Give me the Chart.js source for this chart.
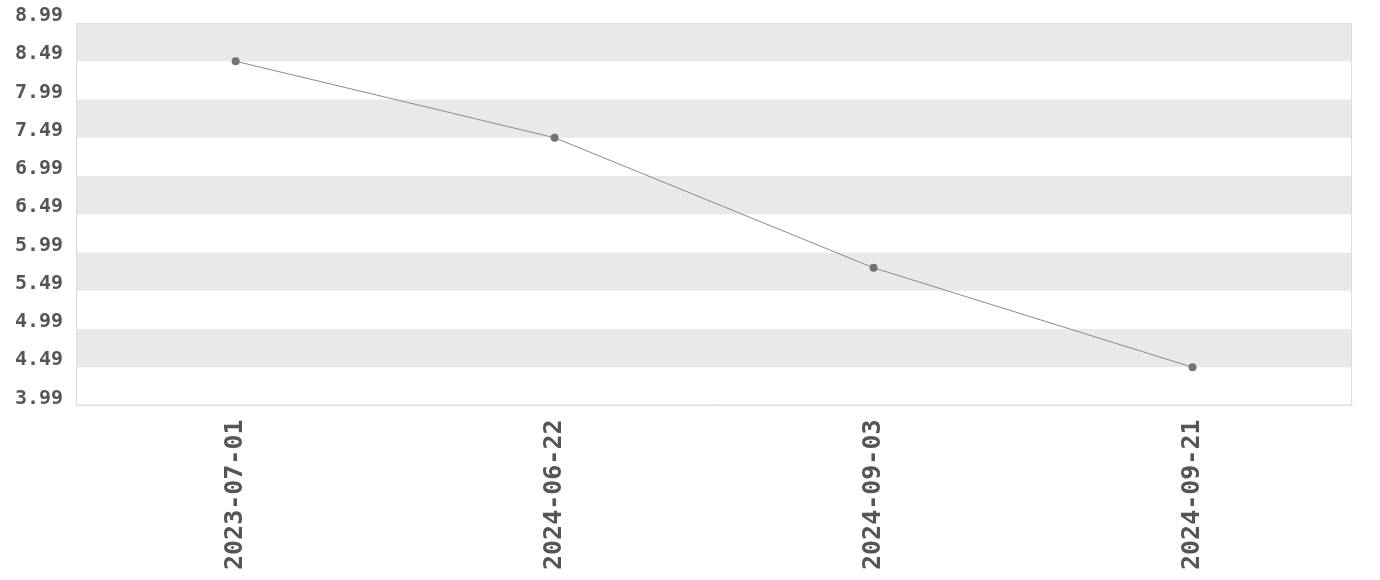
<!DOCTYPE html>
<html>
<head>
<meta charset="utf-8">
<script src="https://cdn.jsdelivr.net/npm/chart.js@4"></script>
<style>
  html, body { margin: 0; padding: 0; background: #fff; }
  #wrap { width: 1380px; height: 580px; }
</style>
</head>
<body>
<div id="wrap"><canvas id="chart"></canvas></div>
<script>
// data
const dates = ['2023-07-01', '2024-06-22', '2024-09-03', '2024-09-21'];
const prices = [8.49, 7.49, 5.79, 4.49];
const yTicks = [3.99, 4.49, 4.99, 5.49, 5.99, 6.49, 6.99, 7.49, 7.99, 8.49, 8.99];

//striped background between ticks
const bands = {
  id: 'bands',
  beforeDatasetsDraw(chart) {
    const { ctx, chartArea, scales } = chart;
    const y = scales.y;
    ctx.save();
    ctx.fillStyle = '#e9e9e9';
    for (let i = 1; i < yTicks.length - 1; i += 2) {
      const top = y.getPixelForValue(yTicks[i + 1]);
      const bot = y.getPixelForValue(yTicks[i]);
      ctx.fillRect(chartArea.left, top, chartArea.right - chartArea.left, bot - top);
    }
    ctx.restore();
  }
};

new Chart(document.getElementById('chart'), {
  type: 'line',
  data: {
    labels: dates,
    datasets: [{
      data: prices,
      borderColor: '#8a8a8a',
      borderWidth: 1,
      pointRadius: 4,
      pointBackgroundColor: '#727272',
      pointBorderWidth: 0,
      tension: 0
    }]
  },
  options: {
    responsive: true,
    maintainAspectRatio: false,
    animation: false,
    layout: { padding: { top: 7, right: 28, bottom: -4, left: 2 } },
    plugins: { legend: { display: false }, tooltip: { enabled: false } },
    scales: {
      x: {
        offset: true,
        grid: { display: false, drawTicks: false },
        border: { display: true, color: '#dddddd' },
        ticks: {
          color: '#555',
          padding: 14,
          maxRotation: 90,
          minRotation: 90,
          font: { family: 'DejaVu Sans Mono', weight: 'bold', size: 25 }
        }
      },
      y: {
        min: 3.99,
        max: 8.99,
        afterBuildTicks: (axis) => { axis.ticks = yTicks.map(v => ({ value: v })); },
        grid: { display: false, drawTicks: false },
        border: { display: true, color: '#dddddd' },
        ticks: {
          color: '#555',
          padding: 13,
          labelOffset: -7,
          font: { family: 'DejaVu Sans Mono', weight: 'bold', size: 20, lineHeight: 1 },
          callback: (v) => Number(v).toFixed(2)
        }
      }
    }
  },
  plugins: [bands, {
    // right and top border of the plot
    id: 'frame',
    afterDatasetsDraw(chart) {
      const { ctx, chartArea: a } = chart;
      ctx.save();
      ctx.strokeStyle = '#dddddd';
      ctx.lineWidth = 1;
      ctx.strokeRect(a.left + 0.5, a.top + 0.5, a.right - a.left - 1, a.bottom - a.top - 1);
      ctx.restore();
    }
  }]
});
</script>
</body>
</html>
